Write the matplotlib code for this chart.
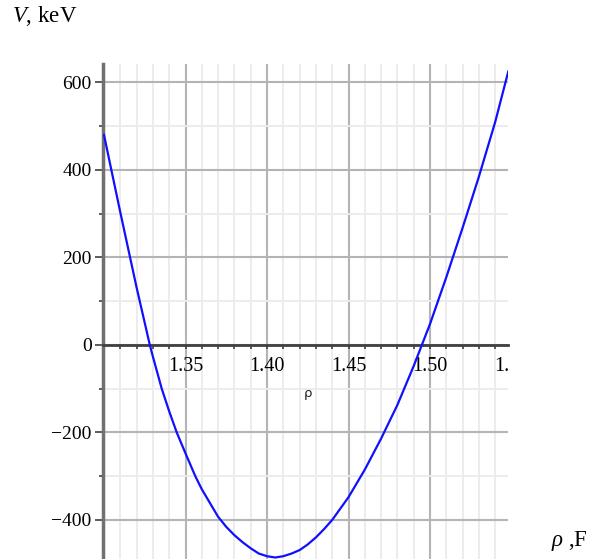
import matplotlib
matplotlib.use("Agg")
import matplotlib.pyplot as plt
from matplotlib.ticker import MultipleLocator

# Curve: rho (fm) vs V (keV)
rho_values = [1.3000, 1.3045, 1.3100, 1.3200, 1.3281, 1.3300, 1.3354, 1.3400,
              1.3446, 1.3500, 1.3560, 1.3600, 1.3700, 1.3750, 1.3800, 1.3850,
              1.3900, 1.3950, 1.4000, 1.4050, 1.4100, 1.4150, 1.4200, 1.4250,
              1.4300, 1.4350, 1.4400, 1.4500, 1.4600, 1.4700, 1.4800, 1.4900,
              1.5000, 1.5100, 1.5200, 1.5300, 1.5400, 1.5480]
V_values = [480, 400, 303, 131, 0, -27, -100, -152,
            -200, -248, -300, -330, -393, -416, -435, -451,
            -465, -477, -483, -486, -483, -477, -469, -456,
            -440, -421, -400, -348, -285, -214, -137, -48,
            48, 155, 268, 385, 510, 625]

x_ticks = [1.35, 1.40, 1.45, 1.50, 1.55]
x_tick_labels = ["1.35", "1.40", "1.45", "1.50", "1.55"]
y_ticks = [-400, -200, 0, 200, 400, 600]
y_tick_labels = ["\u2212400", "\u2212200", "0", "200", "400", "600"]

plt.rcParams["mathtext.fontset"] = "custom"
plt.rcParams["mathtext.it"] = "Liberation Serif:italic"
plt.rcParams["mathtext.rm"] = "Liberation Serif"

W, H = 593, 559
fig = plt.figure(figsize=(W / 100, H / 100), dpi=100)
ax = fig.add_axes([102.7 / W, 0, (508.3 - 102.7) / W, (559 - 64) / H])
ax.set_xlim(1.2992, 1.548)
ax.set_ylim(-489.4, 642)

# grid
ax.xaxis.set_major_locator(MultipleLocator(0.05))
ax.xaxis.set_minor_locator(MultipleLocator(0.01))
ax.yaxis.set_minor_locator(MultipleLocator(100))
ax.set_yticks(y_ticks)
ax.set_yticklabels(y_tick_labels, fontsize=14, family="Liberation Serif")
ax.set_xticklabels([])
ax.grid(which="major", color="#b4b4b4", lw=1.5, zorder=0)
ax.grid(which="minor", color="#ececec", lw=1.4, zorder=0)
ax.set_axisbelow(True)

# axes lines
for s in ["top", "right"]:
    ax.spines[s].set_visible(False)
ax.spines["bottom"].set_position(("data", 0))
ax.spines["bottom"].set_color("#404040")
ax.spines["bottom"].set_linewidth(2.0)
ax.spines["left"].set_color("#707070")
ax.spines["left"].set_linewidth(2.5)

ax.tick_params(axis="y", which="major", direction="out", length=6, width=1.2,
               color="#404040", pad=2)
ax.tick_params(axis="y", which="minor", direction="out", length=3, width=1.2,
               color="#404040")
ax.tick_params(axis="x", which="both", direction="out", length=3, width=1.2,
               color="#404040")

# x tick labels (clipped at the right edge of the plot like the reference)
for xv, lab in zip(x_ticks, x_tick_labels):
    ax.annotate(lab, xy=(xv, 0), xycoords="data", xytext=(0, -9),
                textcoords="offset points", ha="center", va="top",
                fontsize=14.5, family="Liberation Serif",
                annotation_clip=False, clip_on=True)

ax.plot(rho_values, V_values, color="#1010ff", lw=1.6, zorder=3,
        solid_joinstyle="round")

ax.text(0.5 * (1.30 + 1.55), -110, "\u03c1", ha="center", va="center",
        fontsize=9.5, family="DejaVu Sans", color="#202020")

fig.text(12 / W, 1 - 16.5 / H, "$V$, keV", ha="left", va="center",
         fontsize=16.5, family="Liberation Serif")
fig.text(551 / W, 1 - 541 / H, r"$\rho$ ,F", ha="left", va="center",
         fontsize=16.5, family="Liberation Serif")

fig.savefig("out.png", dpi=100)
